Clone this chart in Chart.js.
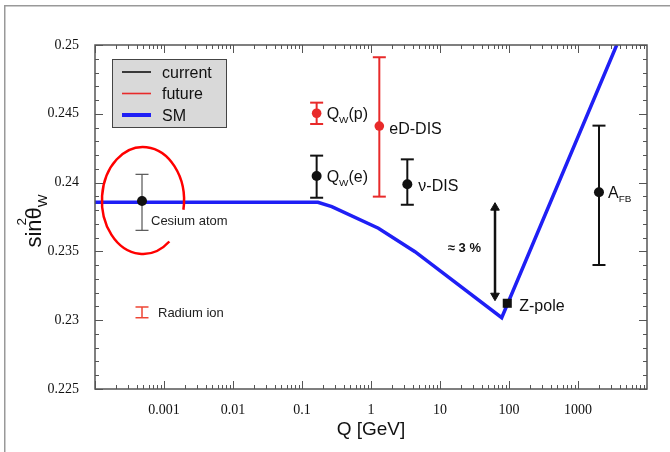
<!DOCTYPE html>
<html>
<head>
<meta charset="utf-8">
<script src="https://cdn.jsdelivr.net/npm/chart.js@4.4.1/dist/chart.umd.min.js"></script>
<style>
  html, body { margin: 0; padding: 0; background: #fff; overflow: hidden; }
  #wrap { width: 670px; height: 452px; position: relative; }
  canvas { display: block; }
</style>
</head>
<body>
<div id="wrap"><canvas id="weakChart"></canvas></div>
<script>
// Standard Model running of sin^2(theta_W) (blue curve)
const smQ = [1e-4, 0.17, 0.27, 1.28, 4.34, 78.4, 3640];
const smY = [0.23857, 0.23857, 0.23825, 0.23668, 0.23498, 0.23018, 0.25];

// current measurements: Cesium atom, Qw(e), nu-DIS, A_FB
const currentQ = [4.8e-4, 0.163, 3.36, 2014];
const currentY = [0.23866, 0.24048, 0.23988, 0.23930];
const currentLo = [0.23653, 0.23890, 0.23839, 0.23401];
const currentHi = [0.24060, 0.24196, 0.24169, 0.24414];

// future: Qw(p), eD-DIS
const futureQ = [0.163, 1.32];
const futureY = [0.24504, 0.24411];
const futureLo = [0.24426, 0.23898];
const futureHi = [0.24581, 0.24911];

// Radium ion (bar only)
const radiumQ = [4.8e-4];
const radiumLo = [0.23018];
const radiumHi = [0.23096];

// Z-pole
const zQ = [94.4];
const zY = [0.23123];

// "~3 %" arrow and the ring around the cesium point
const arrowQ = [62.7, 62.7];
const arrowY = [0.23818, 0.23178];
const ringQ = [1.26e-4, 1.95e-3];
const ringY = [0.23481, 0.24259];

// axis ticks
const xLabelQ = [1e-3, 1e-2, 0.1, 1, 10, 100, 1000];
const decades = [-4, -3, -2, -1, 0, 1, 2, 3];
const steps = [1, 2, 3, 4, 5, 6, 7, 8, 9];
const yLabels = [0.225, 0.23, 0.235, 0.24, 0.245, 0.25];
const yMinor = 0.001;

const BLACK = '#111';
const RED = '#e82a2a';
const BLUE = '#1f1ff5';
const SANS = '"Liberation Sans", Arial, Helvetica, sans-serif';
const SERIF = '"Liberation Serif", "Times New Roman", serif';

function errBar(q, lo, hi, color, width) {
  return {
    data: [{ x: q, y: lo }, { x: q, y: hi }],
    showLine: true,
    borderColor: color,
    borderWidth: width,
    pointStyle: 'line',
    pointRadius: 6.5,
    pointBorderColor: color,
    pointBorderWidth: width,
    order: 1
  };
}

const datasets = [];

datasets.push({
  data: currentQ.map((q, i) => ({ x: q, y: currentY[i] })),
  pointRadius: 5, pointBackgroundColor: BLACK, pointBorderColor: BLACK, pointBorderWidth: 0, order: 0
});
datasets.push({
  data: futureQ.map((q, i) => ({ x: q, y: futureY[i] })),
  pointRadius: 4.8, pointBackgroundColor: RED, pointBorderColor: RED, pointBorderWidth: 0, order: 0
});
datasets.push({
  data: zQ.map((q, i) => ({ x: q, y: zY[i] })),
  pointStyle: 'rect', pointRadius: 6.4, pointBackgroundColor: BLACK, pointBorderColor: BLACK, pointBorderWidth: 0, order: 0
});
// arrow with triangle heads
datasets.push({
  data: arrowQ.map((q, i) => ({ x: q, y: arrowY[i] })),
  showLine: true, borderColor: BLACK, borderWidth: 2.5,
  pointStyle: 'triangle', pointRotation: [0, 180], pointRadius: 5,
  pointBackgroundColor: BLACK, pointBorderColor: BLACK, pointBorderWidth: 1, order: 0
});

currentQ.forEach((q, i) => {
  if (i === 0) datasets.push(errBar(q, currentLo[i], currentHi[i], '#555', 1.2));
  else datasets.push(errBar(q, currentLo[i], currentHi[i], BLACK, 2));
});
futureQ.forEach((q, i) => datasets.push(errBar(q, futureLo[i], futureHi[i], RED, 2)));
radiumQ.forEach((q, i) => datasets.push(errBar(q, radiumLo[i], radiumHi[i], '#ee4433', 1.5)));

datasets.push({
  data: smQ.map((q, i) => ({ x: q, y: smY[i] })),
  showLine: true, borderColor: BLUE, borderWidth: 3.5, pointRadius: 0, tension: 0, order: 2
});

function rich(ctx, parts, x, y, size) {
  let cx = x;
  parts.forEach(([t, kind]) => {
    const s = kind ? size * 0.62 : size;
    ctx.font = s + 'px ' + SANS;
    const dy = kind === 'sub' ? size * 0.28 : 0;
    ctx.fillText(t, cx, y + dy);
    cx += ctx.measureText(t).width;
  });
}

const notes = [
  { parts: [['Q'], ['W', 'sub'], ['(p)']], q: futureQ[0], y: futureY[0], dx: 10, dy: 0, size: 16 },
  { parts: [['eD-DIS']], q: futureQ[1], y: futureY[1], dx: 10, dy: 2, size: 16 },
  { parts: [['Q'], ['W', 'sub'], ['(e)']], q: currentQ[1], y: currentY[1], dx: 10, dy: 0, size: 16 },
  { parts: [['ν-DIS']], q: currentQ[2], y: currentY[2], dx: 11, dy: 1, size: 16 },
  { parts: [['A'], ['FB', 'sub']], q: currentQ[3], y: currentY[3], dx: 9, dy: 0, size: 16 },
  { parts: [['Z-pole']], q: zQ[0], y: zY[0], dx: 12, dy: 2, size: 16 },
  { parts: [['Cesium atom']], q: currentQ[0], y: currentY[0], dx: 9, dy: 19, size: 13, color: '#222' },
  { parts: [['Radium ion']], q: radiumQ[0], y: (radiumLo[0] + radiumHi[0]) / 2, dx: 16, dy: 0, size: 13, color: '#222' }
];

const deco = {
  id: 'deco',
  beforeDraw(chart) {
    // outer frame of the original figure (only top and left edges are visible)
    const ctx = chart.ctx;
    ctx.save();
    ctx.fillStyle = '#999';
    ctx.fillRect(4, 5, 1.5, chart.height - 5);
    ctx.fillRect(4, 5, chart.width - 4, 1.5);
    ctx.restore();
  },
  afterDatasetsDraw(chart) {
    const ctx = chart.ctx;
    const xs = chart.scales.x, ys = chart.scales.y;
    const a = chart.chartArea;
    ctx.save();

    // ring around the cesium result
    const x0 = xs.getPixelForValue(ringQ[0]), x1 = xs.getPixelForValue(ringQ[1]);
    const y0 = ys.getPixelForValue(ringY[0]), y1 = ys.getPixelForValue(ringY[1]);
    ctx.strokeStyle = '#f00';
    ctx.lineWidth = 2.5;
    ctx.beginPath();
    ctx.ellipse((x0 + x1) / 2, (y0 + y1) / 2, (x1 - x0) / 2, (y0 - y1) / 2, 0,
      50 * Math.PI / 180, 370 * Math.PI / 180);
    ctx.stroke();

    // annotations
    ctx.textBaseline = 'alphabetic';
    ctx.textAlign = 'left';
    notes.forEach(n => {
      ctx.fillStyle = n.color || BLACK;
      const px = xs.getPixelForValue(n.q) + n.dx;
      const py = ys.getPixelForValue(n.y) + n.dy + n.size * 0.36;
      rich(ctx, n.parts, px, py, n.size);
    });
    ctx.fillStyle = BLACK;
    ctx.font = 'bold 13px ' + SANS;
    const ax = xs.getPixelForValue(arrowQ[0]);
    const ay = (ys.getPixelForValue(arrowY[0]) + ys.getPixelForValue(arrowY[1])) / 2;
    ctx.textAlign = 'right';
    ctx.fillText('≈ 3 %', ax - 14, ay);

    // legend box
    ctx.textAlign = 'left';
    ctx.fillStyle = '#d9d9d9';
    ctx.fillRect(a.left + 17, a.top + 14, 115, 69);
    ctx.strokeStyle = '#444';
    ctx.lineWidth = 1;
    ctx.strokeRect(a.left + 17.5, a.top + 14.5, 114, 68);
    const rows = [['current', BLACK, 1.6], ['future', RED, 1.6], ['SM', BLUE, 4]];
    rows.forEach(([label, color, w], i) => {
      const ry = a.top + 27 + i * 21.5;
      ctx.strokeStyle = color;
      ctx.lineWidth = w;
      ctx.beginPath();
      ctx.moveTo(a.left + 27, ry);
      ctx.lineTo(a.left + 56, ry);
      ctx.stroke();
      ctx.fillStyle = BLACK;
      ctx.font = '16px ' + SANS;
      ctx.fillText(label, a.left + 67, ry + 5.8);
    });
    ctx.restore();
  },
  afterDraw(chart) {
    const ctx = chart.ctx;
    const xs = chart.scales.x, ys = chart.scales.y;
    const a = chart.chartArea;
    ctx.save();
    ctx.strokeStyle = '#555';
    ctx.lineWidth = 1;
    ctx.beginPath();
    decades.forEach(d => {
      steps.forEach(s => {
        const px = Math.round(xs.getPixelForValue(s * Math.pow(10, d))) + 0.5;
        const len = s === 1 ? 8 : 4;
        ctx.moveTo(px, a.bottom); ctx.lineTo(px, a.bottom - len);
        ctx.moveTo(px, a.top); ctx.lineTo(px, a.top + len);
      });
    });
    const n = Math.round((yLabels[yLabels.length - 1] - yLabels[0]) / yMinor);
    for (let i = 0; i <= n; i++) {
      const py = Math.round(ys.getPixelForValue(yLabels[0] + i * yMinor)) + 0.5;
      const len = i % 5 === 0 ? 8 : 4;
      ctx.moveTo(a.left, py); ctx.lineTo(a.left + len, py);
      ctx.moveTo(a.right, py); ctx.lineTo(a.right - len, py);
    }
    ctx.stroke();
    ctx.lineWidth = 1.5;
    ctx.strokeStyle = '#555';
    ctx.strokeRect(a.left, a.top, a.right - a.left, a.bottom - a.top);

    // y title: sin^2 theta_W
    ctx.translate(41, 221);
    ctx.rotate(-Math.PI / 2);
    ctx.fillStyle = BLACK;
    ctx.textBaseline = 'alphabetic';
    const size = 22;
    ctx.font = size + 'px ' + SANS;
    const wSin = ctx.measureText('sin').width;
    const wTh = ctx.measureText('θ').width;
    ctx.font = (size * 0.62) + 'px ' + SANS;
    const wW = ctx.measureText('W').width;
    let cx = -(wSin + wTh + wW) / 2;
    ctx.font = size + 'px ' + SANS;
    ctx.fillText('sin', cx, 0);
    cx += wSin;
    ctx.font = (size * 0.62) + 'px ' + SANS;
    ctx.fillText('2', cx - 6, -size * 0.66);
    ctx.font = size + 'px ' + SANS;
    ctx.fillText('θ', cx, 0);
    cx += wTh;
    ctx.font = (size * 0.62) + 'px ' + SANS;
    ctx.fillText('W', cx, size * 0.28);
    ctx.restore();
  }
};

new Chart(document.getElementById('weakChart'), {
  type: 'scatter',
  data: { datasets },
  options: {
    responsive: true,
    maintainAspectRatio: false,
    animation: false,
    events: [],
    layout: { padding: { left: 0, top: 45, right: 23, bottom: 0 } },
    plugins: { legend: { display: false }, tooltip: { enabled: false } },
    scales: {
      x: {
        type: 'logarithmic',
        min: 1e-4,
        max: 1e4,
        afterBuildTicks: s => { s.ticks = xLabelQ.map(v => ({ value: v })); },
        afterFit: s => { s.height = 63; },
        grid: { display: false },
        border: { display: false },
        ticks: {
          autoSkip: false, maxRotation: 0, padding: 5,
          color: BLACK, font: { family: SERIF, size: 14 },
          callback: v => String(v)
        },
        title: {
          display: true, text: 'Q [GeV]', color: BLACK,
          font: { family: SANS, size: 19 },
          padding: { top: 0, bottom: 11 }
        }
      },
      y: {
        min: 0.225,
        max: 0.25,
        afterBuildTicks: s => { s.ticks = yLabels.map(v => ({ value: v })); },
        afterFit: s => { s.width = 95; },
        grid: { display: false },
        border: { display: false },
        ticks: {
          padding: 8, color: BLACK, font: { family: SERIF, size: 14 },
          callback: v => String(v)
        }
      }
    }
  },
  plugins: [deco]
});
</script>
</body>
</html>
